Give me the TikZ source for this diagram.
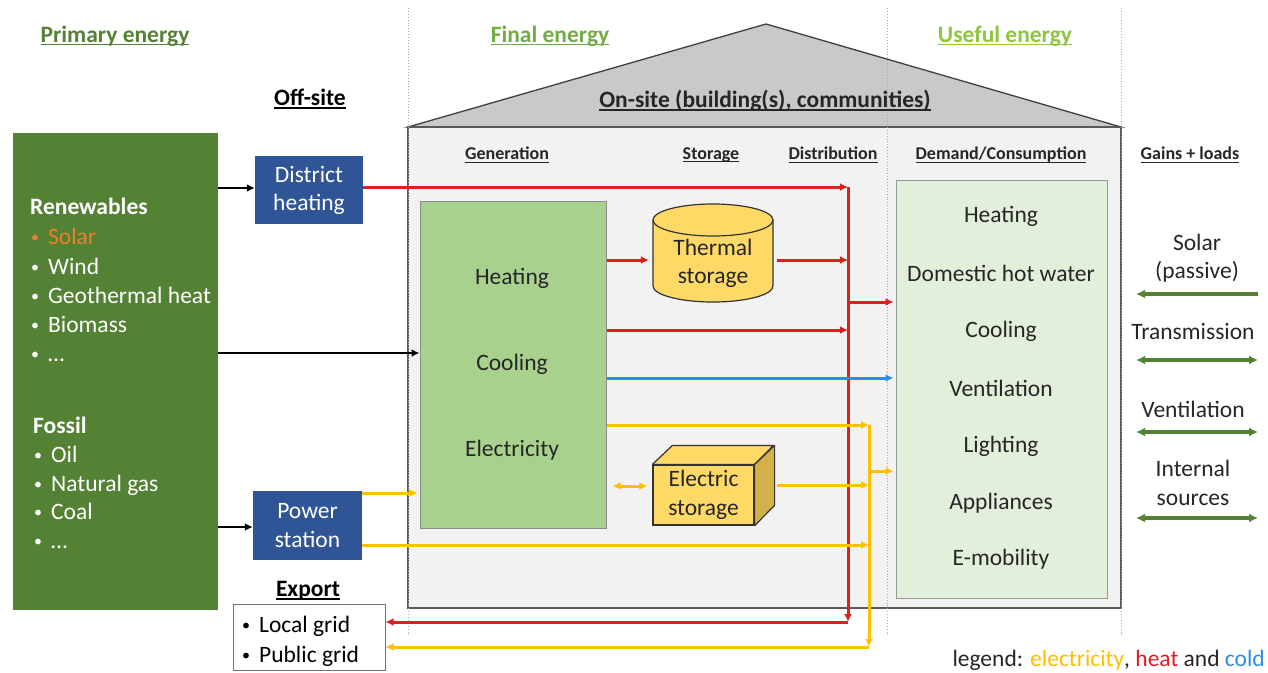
\documentclass[tikz,border=0pt]{standalone}
\usepackage{fontspec}
\setmainfont{Carlito}
\usetikzlibrary{arrows.meta}
\definecolor{primgreen}{HTML}{548235}
\definecolor{finalgreen}{HTML}{70AD47}
\definecolor{usefulgreen}{HTML}{8DC63F}
\definecolor{heatc}{HTML}{E01E1E}
\definecolor{elecc}{HTML}{FFC000}
\definecolor{coldc}{HTML}{2E8BE0}
\definecolor{dhblue}{HTML}{2F5597}
\definecolor{genfill}{HTML}{A9D18E}
\definecolor{demfill}{HTML}{E2EFDA}
\definecolor{housebg}{HTML}{F2F2F2}
\definecolor{roofc}{HTML}{C9C9C9}
\definecolor{storefill}{HTML}{FFD966}
\definecolor{storeside}{HTML}{D4B04A}
\definecolor{solarc}{HTML}{ED7D31}
\definecolor{txt}{HTML}{262626}
\newcommand\myul[1]{\begingroup\setbox0\hbox{#1}\rlap{\rule[-3pt]{\wd0}{1.3pt}}\box0\endgroup}
\newcommand\bul{\raisebox{2pt}{\fontsize{16}{16}\selectfont•}\hspace{9pt}}
\begin{document}
\begin{tikzpicture}[x=1pt,y=-1pt,
  every node/.style={font=\fontsize{23.5}{28}\selectfont, inner sep=0pt},
  colhead/.style={font=\fontsize{18}{22}\selectfont\bfseries, text=txt},
  plain/.style={text=txt},
  dotline/.style={draw=gray!70, dotted, line width=0.9pt},
  conn/.style={line width=3pt, -{Latex[length=8pt,width=8pt]}},
  blk/.style={conn, draw=black, line width=2.6pt},
  heat/.style={conn, draw=heatc},
  elec/.style={conn, draw=elecc},
  cold/.style={conn, draw=coldc},
  gain/.style={line width=3.6pt, draw=primgreen, {Latex[length=9pt,width=9pt]}-{Latex[length=9pt,width=9pt]}},
  gainl/.style={line width=3.6pt, draw=primgreen, {Latex[length=9pt,width=9pt]}-},
  bluebox/.style={fill=dhblue, text=white, align=center, minimum width=108pt, minimum height=68pt},
  whitebullet/.style={text=white, anchor=base west}
]
\useasboundingbox (0,0) rectangle (1268,672);

% house
\filldraw[fill=roofc, draw=black!75, line width=1.3pt] (408,127) -- (766,24) -- (1121,127) -- cycle;
\filldraw[fill=housebg, draw=black!65, line width=1.3pt] (408,127) rectangle (1121,608);

% dotted separators
\draw[dotline] (408,8) -- (408,637);
\draw[dotline] (887,8) -- (887,637);
\draw[dotline] (1121,8) -- (1121,637);

% headings
\node[text=primgreen, font=\fontsize{23.5}{28}\selectfont\bfseries] (hprim) at (115,36) {\myul{Primary energy}};
\node[text=finalgreen, font=\fontsize{23.5}{28}\selectfont\bfseries] (hfinal) at (550,36) {\myul{Final energy}};
\node[text=usefulgreen, font=\fontsize{23.5}{28}\selectfont\bfseries] (huseful) at (1005,36) {\myul{Useful energy}};
\node[font=\fontsize{23.5}{28}\selectfont\bfseries, text=txt] (onsite) at (765,101) {\myul{On-site (building(s), communities)}};
\node[font=\fontsize{23.5}{28}\selectfont\bfseries] (offsite) at (310,99) {\myul{Off-site}};
\node[font=\fontsize{23.5}{28}\selectfont\bfseries] (exporth) at (308,591) {\myul{Export}};

\node[colhead] (hgen) at (507,155) {\myul{Generation}};
\node[colhead] (hsto) at (711,155) {\myul{Storage}};
\node[colhead] (hdis) at (833,155) {\myul{Distribution}};
\node[colhead] (hdem) at (1001,155) {\myul{Demand/Consumption}};
\node[colhead] (hgain) at (1190,155) {\myul{Gains + loads}};

% primary energy box
\node[fill=primgreen, minimum width=205pt, minimum height=477pt, anchor=north west] (prim) at (13,133) {};
\node[whitebullet, font=\fontsize{23.5}{28}\selectfont\bfseries] (ren) at (30,214) {Renewables};
\node[anchor=base west, text=solarc] (r1) at (31,244) {\bul Solar};
\node[whitebullet] (r2) at (31,274) {\bul Wind};
\node[whitebullet] (r3) at (31,303) {\bul Geothermal heat};
\node[whitebullet] (r4) at (31,332) {\bul Biomass};
\node[whitebullet] (r5) at (31,361) {\bul …};
\node[whitebullet, font=\fontsize{23.5}{28}\selectfont\bfseries] (fos) at (33,433) {Fossil};
\node[whitebullet] (f1) at (34,462) {\bul Oil};
\node[whitebullet] (f2) at (34,491) {\bul Natural gas};
\node[whitebullet] (f3) at (34,519) {\bul Coal};
\node[whitebullet] (f4) at (34,548) {\bul …};

% off-site boxes
\node[bluebox] (dh) at (309,190) {District\\heating};
\node[bluebox, minimum width=109pt, minimum height=69pt, font=\fontsize{23.5}{29}\selectfont] (ps) at (307.5,525.5) {Power\\station};
\node[draw=black!55, fill=white, line width=1pt, minimum width=152pt, minimum height=66pt] (export) at (309,637) {};
\node[anchor=base west, text=black] (loc) at (242,632) {\bul Local grid};
\node[anchor=base west, text=black] (pub) at (242,662) {\bul Public grid};

% generation
\node[fill=genfill, draw=black!45, line width=1pt, minimum width=186pt, minimum height=327pt] (gen) at (513,364.5) {};
\node[plain] (gheat) at (512,278) {Heating};
\node[plain] (gcool) at (512,364) {Cooling};
\node[plain] (gelec) at (512,450) {Electricity};

% thermal storage cylinder
\filldraw[fill=storefill, draw=black!80, line width=1.2pt]
  (653,220) -- (653,286) arc[start angle=180, end angle=0, x radius=60, y radius=16]
  -- (773,220) arc[start angle=0, end angle=-180, x radius=60, y radius=16] -- cycle;
\draw[black!80, line width=1.2pt] (653,220) arc[start angle=180, end angle=0, x radius=60, y radius=16];
\node[plain, align=center, minimum width=120pt, minimum height=98pt] (thermal) at (713,263) {Thermal\\storage};

% electric storage cube
\node[plain, fill=storefill, draw=black!80, line width=1.2pt, align=center, minimum width=101pt, minimum height=60pt, font=\fontsize{23.5}{29}\selectfont] (estore) at (703.5,495) {Electric\\storage};
\filldraw[fill=storefill, draw=black!80, line width=1.2pt, line join=round] (estore.north west) -- ++(20,-19) -- ++(101,0) -- (estore.north east) -- cycle;
\filldraw[fill=storeside, draw=black!80, line width=1.2pt, line join=round] (estore.north east) -- ++(20,-19) -- ++(0,60) -- (estore.south east) -- cycle;
\coordinate (estout) at (777,485);

% demand box
\node[fill=demfill, draw=black!40, line width=1pt, minimum width=211pt, minimum height=418pt] (dem) at (1001.5,389) {};
\node[plain] (d1) at (1001,216) {Heating};
\node[plain] (d2) at (1001,273) {Domestic hot water};
\node[plain] (d3) at (1001,331) {Cooling};
\node[plain] (d4) at (1001,388) {Ventilation};
\node[plain] (d5) at (1001,446) {Lighting};
\node[plain] (d6) at (1001,503) {Appliances};
\node[plain] (d7) at (1001,559) {E-mobility};

% gains + loads
\node[plain, align=center] (gsolar) at (1197,258) {Solar\\(passive)};
\node[plain] (gtrans) at (1193,331) {Transmission};
\node[plain] (gvent) at (1193,409) {Ventilation};
\node[plain, align=center, font=\fontsize{23.5}{29}\selectfont] (gint) at (1193,483) {Internal\\sources};
\coordinate (ga1) at (1136,294); \coordinate (gb1) at (1258,294);
\coordinate (ga2) at (1136,360); \coordinate (gb2) at (1258,360);
\coordinate (ga3) at (1136,432); \coordinate (gb3) at (1258,432);
\coordinate (ga4) at (1136,518); \coordinate (gb4) at (1258,518);
\draw[gainl] (ga1) -- (gb1);
\draw[gain] (ga2) -- (gb2);
\draw[gain] (ga3) -- (gb3);
\draw[gain] (ga4) -- (gb4);

% black arrows
\draw[blk] (prim.east |- 0,188) -- (dh.west |- 0,188);
\draw[blk] (prim.east |- 0,527) -- (ps.west |- 0,527);
\draw[blk] (prim.east |- 0,353) -- (gen.west |- 0,353);

% heat (red)
\coordinate (rtop) at (848,187);
\coordinate (rbot) at (848,622);
\draw[heat] (dh.east |- rtop) -- (rtop);
\draw[heat] (rtop) -- (rbot);
\draw[heat] (rbot) -- (export.east |- rbot);
\draw[heat, shorten >=4pt] (gen.east |- 0,260) -- (thermal.west |- 0,260);
\draw[heat, shorten <=4pt] (thermal.east |- 0,260) -- (rtop |- 0,260);
\draw[heat] (gen.east |- 0,330) -- (rtop |- 0,330);
\draw[heat, shorten >=2pt] (rtop |- 0,302) -- (dem.west |- 0,302);

% cold (blue)
\draw[cold, shorten >=2pt] (gen.east |- 0,378) -- (dem.west |- 0,378);

% electricity (yellow)
\coordinate (ytop) at (869,425);
\coordinate (ybot) at (869,647);
\draw[elec] (gen.east |- ytop) -- (ytop);
\draw[elec] (ytop) -- (ybot);
\draw[elec] (ybot) -- (export.east |- ybot);
\draw[elec, {Latex[length=8pt,width=8pt]}-{Latex[length=8pt,width=8pt]}, shorten <=6pt, shorten >=5pt] (gen.east |- 0,486) -- (estore.west |- 0,486);
\draw[elec] (estout) -- (ytop |- estout);
\draw[elec, shorten >=2pt] (ps.east |- 0,493) -- (gen.west |- 0,493);
\draw[elec] (ps.east |- 0,545) -- (ytop |- 0,545);
\draw[elec, shorten >=2pt] (ytop |- 0,471) -- (dem.west |- 0,471);

% legend
\node[anchor=base east, text=txt] (legend) at (1265,666) {legend: \textcolor{elecc}{electricity}, \textcolor{heatc}{heat} and \textcolor{coldc}{cold}};
\end{tikzpicture}
\end{document}
